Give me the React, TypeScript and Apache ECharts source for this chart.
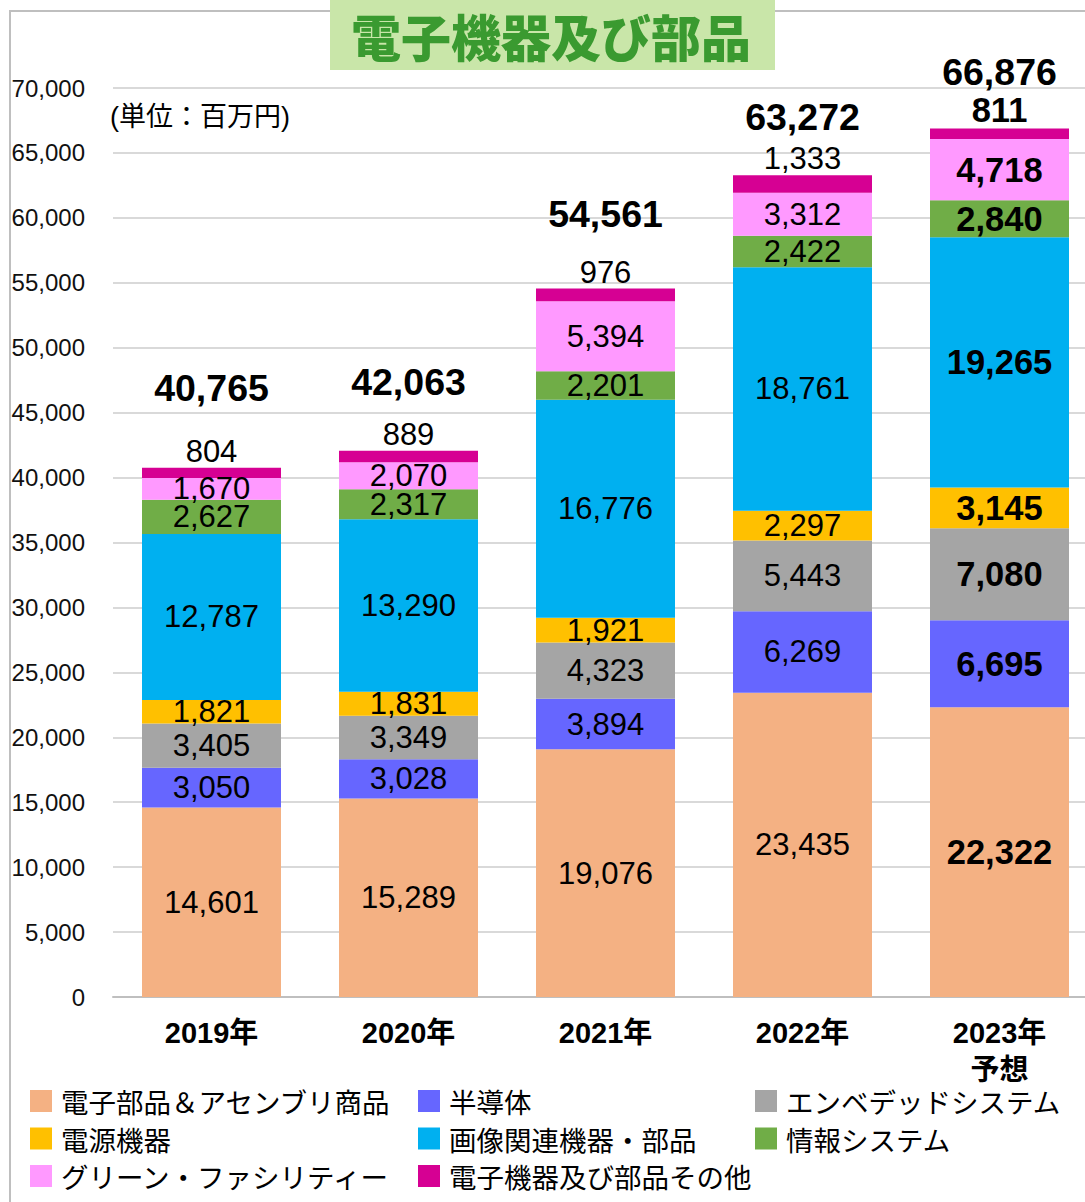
import React, { useEffect, useRef } from "react";
import * as echarts from "echarts";

const categories = ["2019年", "2020年", "2021年", "2022年", "2023年\n予想"];
const seriesNames = [
  "電子部品＆アセンブリ商品",
  "半導体",
  "エンベデッドシステム",
  "電源機器",
  "画像関連機器・部品",
  "情報システム",
  "グリーン・ファシリティー",
  "電子機器及び部品その他",
];
const electronicParts = [14601, 15289, 19076, 23435, 22322];
const semiconductors = [3050, 3028, 3894, 6269, 6695];
const embeddedSystems = [3405, 3349, 4323, 5443, 7080];
const powerEquipment = [1821, 1831, 1921, 2297, 3145];
const imagingParts = [12787, 13290, 16776, 18761, 19265];
const infoSystems = [2627, 2317, 2201, 2422, 2840];
const greenFacility = [1670, 2070, 5394, 3312, 4718];
const otherParts = [804, 889, 976, 1333, 811];
const totals = [40765, 42063, 54561, 63272, 66876];
const seriesValues = [
  electronicParts,
  semiconductors,
  embeddedSystems,
  powerEquipment,
  imagingParts,
  infoSystems,
  greenFacility,
  otherParts,
];
const colors = ["#F4B183", "#6666FF", "#A5A5A5", "#FFC000", "#00B0F0", "#70AD47", "#FF99FF", "#D60093"];
const totalOffsets = [80, 69, 74, 58, 57];
const forecastIndex = 4;

const FONT = "'Liberation Sans', Arial, 'Noto Sans CJK JP', sans-serif";
const fmt = (v: number) => v.toLocaleString("en-US");

export default function App() {
  const ref = useRef<HTMLDivElement>(null);
  useEffect(() => {
    if (!ref.current) return;
    const chart = echarts.init(ref.current, null, { renderer: "svg" });
    const barSeries = seriesValues.map((vals, si) => {
      const isTop = si === seriesValues.length - 1;
      return {
        name: seriesNames[si],
        type: "bar",
        stack: "total",
        barWidth: 139,
        itemStyle: { color: colors[si] },
        label: {
          show: true,
          position: isTop ? "top" : "inside",
          distance: 1,
          fontFamily: FONT,
          fontSize: 31,
          color: "#000",
          formatter: (p: any) => fmt(p.value),
        },
        data: vals.map((v, i) =>
          i === forecastIndex ? { value: v, label: { fontWeight: "bold", fontSize: 34.5 } } : v
        ),
      };
    });
    const totalSeries = {
      name: "合計",
      type: "scatter",
      symbolSize: 0,
      silent: true,
      itemStyle: { opacity: 1, color: "#000" },
      data: totals.map((v, i) => ({
        value: v,
        label: { offset: [0, -totalOffsets[i]] },
      })),
      label: {
        show: true,
        position: "inside",
        fontFamily: FONT,
        fontSize: 37.5,
        fontWeight: "bold",
        color: "#000",
        opacity: 1,
        formatter: (p: any) => fmt(p.value),
      },
      z: 10,
    };
    const legendBase = {
      orient: "vertical",
      icon: "rect",
      itemWidth: 22,
      itemHeight: 22,
      itemGap: 9.5,
      padding: 0,
      top: 1087,
      textStyle: {
        fontFamily: "'Noto Sans CJK JP', sans-serif",
        fontSize: 27.5,
        color: "#000",
        lineHeight: 28,
        padding: [0, 0, 0, 4],
      },
    };
    chart.setOption({
      animation: false,
      backgroundColor: "#fff",
      grid: { left: 113, width: 985, top: 88, bottom: 205 },
      xAxis: {
        type: "category",
        data: categories,
        axisLine: { lineStyle: { color: "#BFBFBF", width: 2 } },
        axisTick: { show: false },
        axisLabel: {
          fontFamily: FONT,
          fontSize: 29,
          fontWeight: "bold",
          color: "#000",
          margin: 17,
          lineHeight: 37,
        },
      },
      yAxis: {
        type: "value",
        min: 0,
        max: 70000,
        interval: 5000,
        axisLine: { show: false },
        axisTick: { show: false },
        splitLine: { lineStyle: { color: "#D9D9D9", width: 2 } },
        axisLabel: {
          fontFamily: FONT,
          fontSize: 24,
          color: "#111",
          margin: 28,
          formatter: (v: number) => fmt(v),
        },
      },
      legend: [
        { ...legendBase, left: 30, data: [seriesNames[0], seriesNames[3], seriesNames[6]] },
        { ...legendBase, left: 418, data: [seriesNames[1], seriesNames[4], seriesNames[7]] },
        { ...legendBase, left: 755, data: [seriesNames[2], seriesNames[5]] },
      ],
      graphic: [
        {
          type: "rect",
          shape: { x: 10, y: 11, width: 1100, height: 1220 },
          style: { fill: "none", stroke: "#BFBFBF", lineWidth: 2 },
          z: -10,
          silent: true,
        },
        {
          type: "rect",
          shape: { x: 330, y: 0, width: 445, height: 70 },
          style: { fill: "#C9E6A9" },
          z: 100,
        },
        {
          type: "text",
          x: 551,
          y: 35,
          style: {
            text: "電子機器及び部品",
            fontFamily: "'Noto Sans CJK JP', sans-serif",
            fontSize: 50,
            fontWeight: 900,
            fill: "#3A9A30",
            align: "center",
            verticalAlign: "middle",
          },
          z: 101,
        },
        {
          type: "text",
          x: 110,
          y: 117,
          style: {
            text: "(単位：百万円)",
            fontFamily: FONT,
            fontSize: 27,
            fill: "#000",
            align: "left",
            verticalAlign: "middle",
          },
          z: 50,
        },
      ],
      series: [...barSeries, totalSeries],
    });
    return () => chart.dispose();
  }, []);
  return (
    <div
      style={{
        position: "absolute",
        left: 0,
        top: 0,
        width: 1085,
        height: 1202,
        overflow: "hidden",
      }}
    >
      <div ref={ref} style={{ width: 1100, height: 1202 }} />
    </div>
  );
}
